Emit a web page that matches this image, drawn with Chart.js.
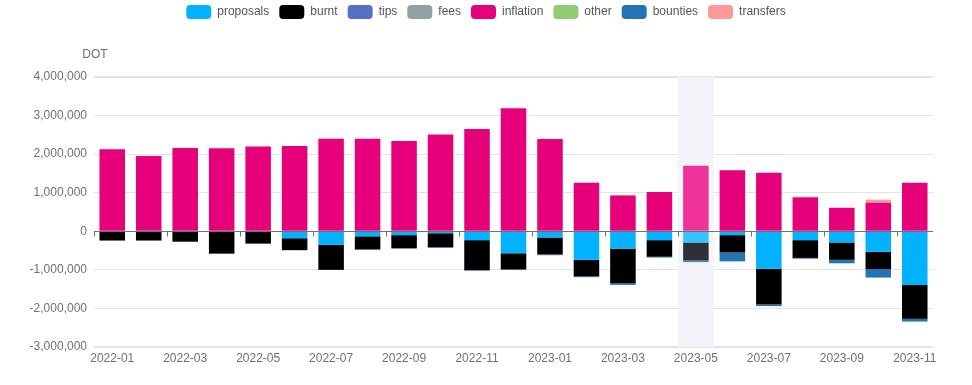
<!DOCTYPE html>
<html lang="en">
<head>
    <meta charset="UTF-8">
    <title>Treasury flows</title>
    <style>
        body { margin: 0; background: #fff; }
        #wrap { width: 972px; height: 385px; }
    </style>
</head>
<body>
    <div id="wrap"><canvas id="flowChart"></canvas></div>
    <script src="https://cdn.jsdelivr.net/npm/chart.js"></script>
    <script>
        const months = ['2022-01', '2022-02', '2022-03', '2022-04', '2022-05', '2022-06', '2022-07', '2022-08',
            '2022-09', '2022-10', '2022-11', '2022-12', '2023-01', '2023-02', '2023-03', '2023-04', '2023-05',
            '2023-06', '2023-07', '2023-08', '2023-09', '2023-10', '2023-11'];

        const proposals = [0, 0, -10000, -10000, -10000, -180000, -350000, -130000, -100000, -50000, -230000, -570000,
            -160000, -740000, -450000, -230000, -290000, -100000, -970000, -230000, -290000, -530000, -1390000];
        const burnt = [-240000, -240000, -260000, -570000, -310000, -310000, -650000, -340000, -340000, -360000, -780000, -420000,
            -440000, -430000, -900000, -430000, -470000, -450000, -930000, -460000, -450000, -450000, -880000];
        const tips = [0, 0, 0, 0, 0, 0, 0, 0, 0, 0, 0, 0, 0, 0, 0, 0, 0, 0, 0, 0, 0, 0, 0];
        const fees = [0, 0, 0, 0, 0, 0, 0, 0, 0, 0, 0, 0, 0, 0, 0, 0, 0, 0, 0, 0, 0, 0, 0];
        const inflation = [2130000, 1950000, 2160000, 2150000, 2200000, 2210000, 2400000, 2400000, 2340000, 2510000, 2650000, 3190000,
            2390000, 1260000, 930000, 1020000, 1700000, 1580000, 1520000, 880000, 610000, 740000, 1260000];
        const other = [0, 0, 0, 0, 0, 0, 0, 0, 0, 0, 0, 0, 0, 0, 0, 0, 0, 0, 0, 20000, 0, 0, 0];
        const bounties = [0, 0, 0, 0, 0, 0, 0, -10000, -10000, -20000, -10000, -10000,
            -20000, -20000, -40000, -20000, -40000, -230000, -40000, -20000, -90000, -220000, -70000];
        const transfers = [0, 0, 0, 0, 0, 0, 0, 0, 0, 0, 0, 0, 0, 0, 0, 0, 0, 0, 0, 0, 0, 80000, 0];

        const yTicks = [-3000000, -2000000, -1000000, 0, 1000000, 2000000, 3000000, 4000000];

        // the hovered month in the screenshot
        const hoverIndex = 16;
        const font = '"Liberation Sans", Arial, sans-serif';

        function colorFor(base, hover) {
            return ctx => ctx.dataIndex === hoverIndex ? hover : base;
        }

        const hoverBand = {
            id: 'hoverBand',
            beforeDatasetsDraw(chart) {
                const x = chart.scales.x;
                const area = chart.chartArea;
                const w = x.width / months.length;
                const cx = x.getPixelForValue(hoverIndex);
                const c = chart.ctx;
                c.save();
                c.fillStyle = '#f3f5fa';
                c.fillRect(cx - w / 2, area.top, w, area.bottom - area.top);
                c.restore();
            },
            afterDatasetsDraw(chart) {
                const x = chart.scales.x;
                const y = chart.scales.y;
                const c = chart.ctx;
                const zero = Math.round(y.getPixelForValue(0)) + 0.5;
                const w = x.width / months.length;
                c.save();
                c.strokeStyle = '#6e7079';
                c.lineWidth = 1;
                c.beginPath();
                c.moveTo(chart.chartArea.left, zero);
                c.lineTo(chart.chartArea.right, zero);
                for (let i = 0; i <= months.length; i += 2) {
                    const px = Math.round(x.getPixelForValue(i) - w / 2) + 0.5;
                    c.moveTo(px, zero);
                    c.lineTo(px, zero + 5);
                }
                c.stroke();
                // unit label above the axis
                c.fillStyle = '#6e7079';
                c.font = '12px ' + font;
                c.textAlign = 'center';
                c.textBaseline = 'middle';
                c.fillText('DOT', 95, 55);
                c.restore();
            }
        };

        // fixed legend band height, legend centred on the whole canvas
        const legendBox = {
            id: 'legendBox',
            beforeInit(chart) {
                const fit = chart.legend.fit;
                chart.legend.fit = function () {
                    fit.call(this);
                    this.height = 82;
                };
            },
            beforeDraw(chart) {
                chart.legend.left = 0;
                chart.legend.right = chart.width;
                chart.legend.width = chart.width;
            }
        };

        const barOpts = { categoryPercentage: 0.7, barPercentage: 1, borderWidth: 0 };

        new Chart(document.getElementById('flowChart'), {
            type: 'bar',
            data: {
                labels: months,
                datasets: [
                    { label: 'proposals', data: proposals, backgroundColor: colorFor('#00b2ff', '#33c4ff'), ...barOpts },
                    { label: 'burnt', data: burnt, backgroundColor: colorFor('#000000', '#2e3035'), ...barOpts },
                    { label: 'tips', data: tips, backgroundColor: colorFor('#5470c6', '#7088d2'), ...barOpts },
                    { label: 'fees', data: fees, backgroundColor: colorFor('#91a0a0', '#a8b4b4'), ...barOpts },
                    { label: 'inflation', data: inflation, backgroundColor: colorFor('#e6007a', '#f0339a'), ...barOpts },
                    { label: 'other', data: other, backgroundColor: colorFor('#91cc75', '#a8d892'), ...barOpts },
                    { label: 'bounties', data: bounties, backgroundColor: colorFor('#2275b4', '#4a8fc4'), ...barOpts },
                    { label: 'transfers', data: transfers, backgroundColor: colorFor('#fc9a9a', '#fdb0b0'), ...barOpts }
                ]
            },
            options: {
                responsive: true,
                maintainAspectRatio: false,
                animation: false,
                layout: { padding: { left: 0, right: 39, top: -5, bottom: 0 } },
                plugins: {
                    tooltip: { enabled: false },
                    legend: {
                        position: 'top',
                        align: 'center',
                        labels: {
                            boxWidth: 25,
                            boxHeight: 14,
                            padding: 10,
                            useBorderRadius: true,
                            borderRadius: 4,
                            color: '#555',
                            font: { family: font, size: 12 }
                        }
                    }
                },
                scales: {
                    x: {
                        stacked: true,
                        grid: { display: false, drawTicks: false },
                        border: { display: false },
                        ticks: {
                            autoSkip: false,
                            maxRotation: 0,
                            padding: 4,
                            color: '#6e7079',
                            font: { family: font, size: 12 },
                            callback: (v, i) => i % 2 === 0 ? months[i] : ''
                        },
                        afterFit: s => { s.height = 38; }
                    },
                    y: {
                        stacked: true,
                        min: yTicks[0],
                        max: yTicks[yTicks.length - 1],
                        afterBuildTicks: s => { s.ticks = yTicks.map(v => ({ value: v })); },
                        grid: {
                            color: '#e0e3ea',
                            lineWidth: c => (c.tick && (c.tick.value === yTicks[0] || c.tick.value === yTicks[yTicks.length - 1])) ? 2 : 1,
                            drawTicks: false
                        },
                        border: { display: false },
                        ticks: {
                            padding: 7,
                            color: '#6e7079',
                            font: { family: font, size: 12 },
                            callback: v => v.toLocaleString('en-US')
                        },
                        afterFit: s => { s.width = 94; }
                    }
                }
            },
            plugins: [hoverBand, legendBox]
        });
    </script>
</body>
</html>
